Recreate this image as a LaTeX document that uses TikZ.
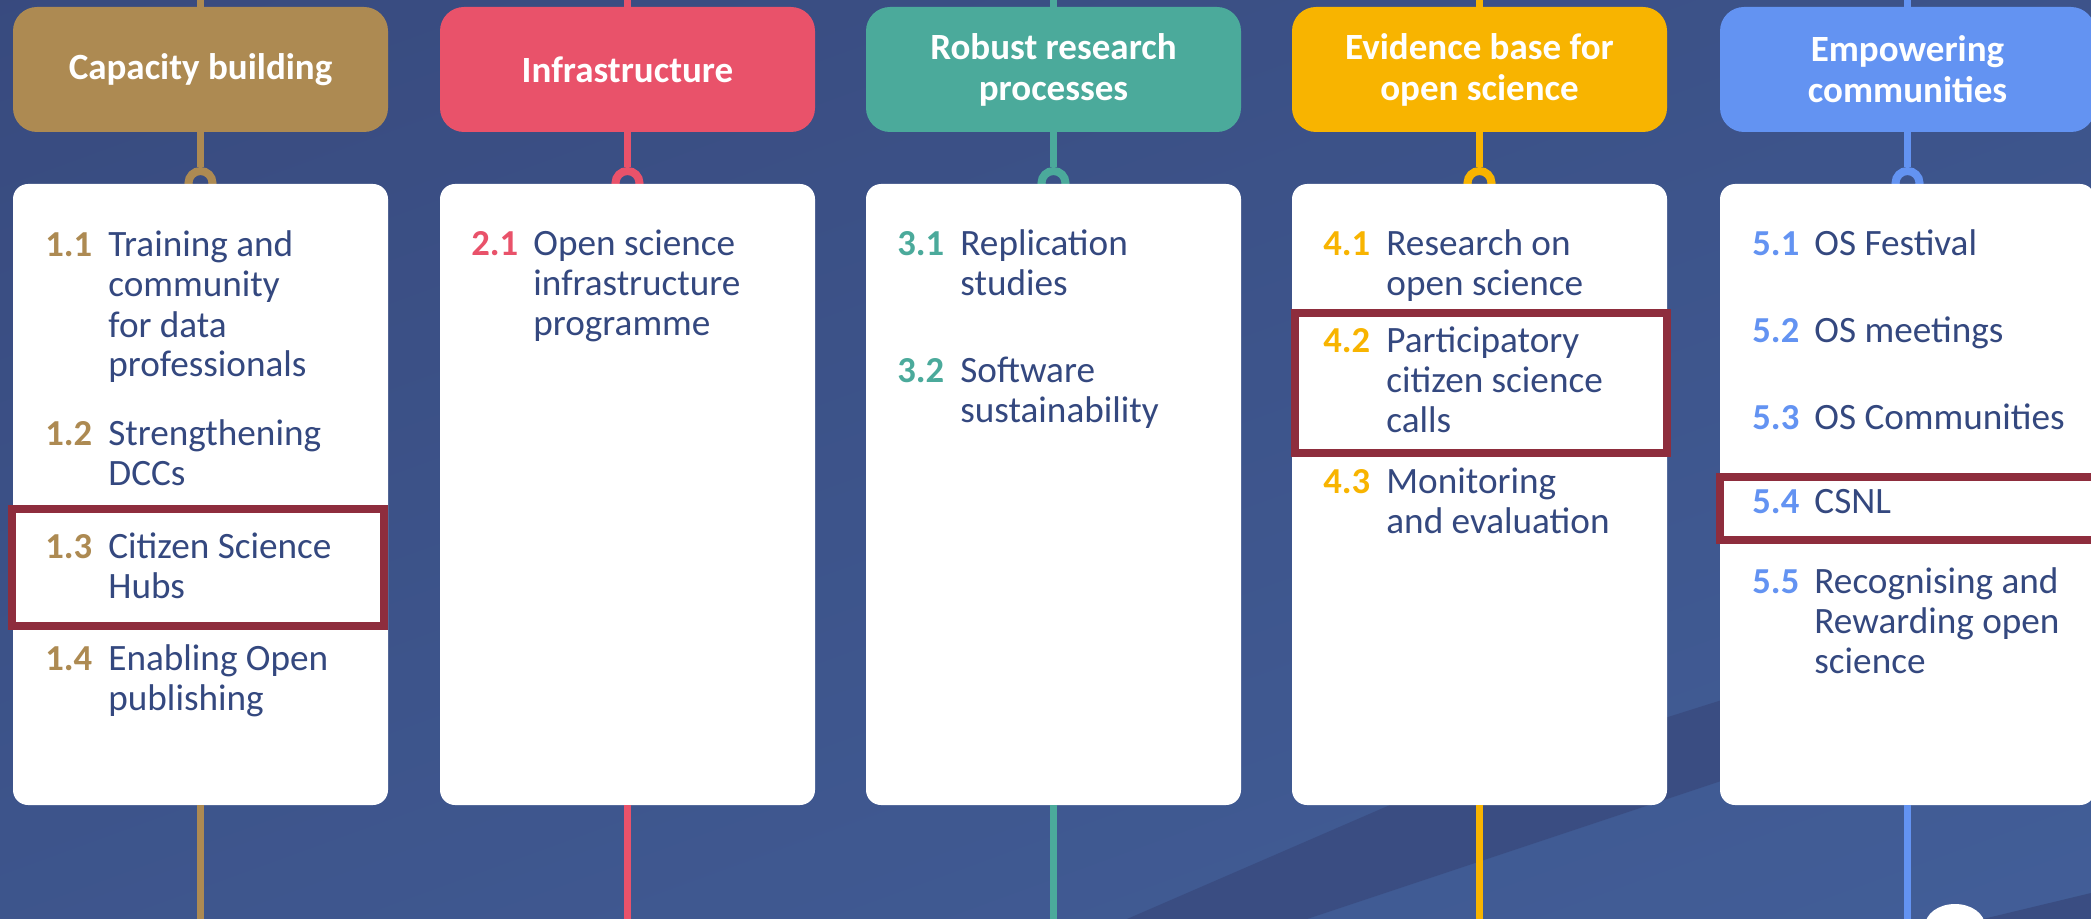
\documentclass[tikz,border=0pt]{standalone}
\usepackage{fontspec}
\setmainfont{Carlito}
\definecolor{bgtop}{HTML}{384A7E}
\definecolor{bgbot}{HTML}{425E98}
\definecolor{band}{HTML}{3A4D82}
\definecolor{cA}{HTML}{AD8A52}
\definecolor{cB}{HTML}{E9526A}
\definecolor{cC}{HTML}{4BAA9B}
\definecolor{cD}{HTML}{F8B400}
\definecolor{cE}{HTML}{6393F2}
\definecolor{itemtxt}{HTML}{34487F}
\definecolor{hlcol}{HTML}{8E2D3D}
\tikzset{
  header/.style={rectangle, rounded corners=12pt, minimum width=187.5pt, minimum height=62.5pt,
    inner sep=0pt, outer sep=0pt, text=white, align=center,
    font=\fontsize{18.5}{20.5}\selectfont\bfseries},
  card/.style={rectangle, rounded corners=7.5pt, fill=white, minimum width=187.5pt,
    minimum height=310.5pt, inner sep=0pt, outer sep=0pt},
  ringnode/.style={circle, line width=4pt, minimum size=12pt, inner sep=0pt, outer sep=0pt},
  stem/.style={line width=3.5pt},
  numtxt/.style={anchor=base west, inner sep=0pt, font=\fontsize{18.3}{20}\selectfont\bfseries},
  itmtxt/.style={anchor=base west, inner sep=0pt, text=itemtxt, font=\fontsize{18.6}{20}\selectfont},
  hlframe/.style={draw=hlcol, line width=4pt}
}
% name, colour, number x, text x, baseline y, number, text
\newcommand\itemrow[7]{%
  \node[numtxt, text=#2] (#1n) at (#3,#5) {#6};
  \node[itmtxt] (#1t) at (#4,#5) {\parbox[t]{175pt}{#7}};
}
\begin{document}
\begin{tikzpicture}[x=0.5pt, y=-0.5pt]
\useasboundingbox (0,0) rectangle (2091,919);
\clip (0,0) rectangle (2091,919);
% background
\shade[top color=bgtop, bottom color=bgbot, shading angle=20] (-200,-200) rectangle (2300,1100);
\fill[band] (1127,919) -- (1390,805) -- (1668,717) -- (1760,688) -- (1760,768) -- (1307,919) -- cycle;
\fill[band] (1983,919) -- (2091,893) -- (2091,919) -- cycle;
\fill[white] (1955,926) ellipse [x radius=30, y radius=22];

% column geometry: centres 200.5, 627.5, 1053.5, 1479.5, 1907.5
\foreach \n/\x in {1/200.5, 2/627.5, 3/1053.5, 4/1479.5, 5/1907.5}{
  \coordinate (t\n) at (\x,0);
  \coordinate (e\n) at (\x,919);
  \coordinate (rc\n) at (\x,183);
}
\node[header, fill=cA] (h1) at (200.5,69.5) {Capacity building};
\node[header, fill=cB] (h2) at (627.5,69.5) {Infrastructure};
\node[header, fill=cC] (h3) at (1053.5,69.5) {Robust research\\processes};
\node[header, fill=cD] (h4) at (1479.5,69.5) {Evidence base for\\open science};
\node[header, fill=cE] (h5) at (1907.5,69.5) {Empowering\\communities};

\foreach \n/\c in {1/cA, 2/cB, 3/cC, 4/cD, 5/cE}{
  \draw[stem, \c] (t\n) -- (h\n.north);
  \draw[stem, \c] (h\n.south) -- ([yshift=8pt]rc\n);
  \node[ringnode, draw=\c] (r\n) at (rc\n) {};
}
\node[card] (b1) at (200.5,494.5) {};
\node[card] (b2) at (627.5,494.5) {};
\node[card] (b3) at (1053.5,494.5) {};
\node[card] (b4) at (1479.5,494.5) {};
\node[card] (b5) at (1907.5,494.5) {};
\foreach \n/\c in {1/cA, 2/cB, 3/cC, 4/cD, 5/cE}{
  \draw[stem, \c] (b\n.south) -- (e\n);
}

% highlight frames
\draw[hlframe] (12,509) rectangle (384,626);
\draw[hlframe] (1295,313) rectangle (1667,453);
\draw[hlframe] (1720,477) rectangle (2110,540);

% column 1
\itemrow{a1}{cA}{45}{108}{257}{1.1}{Training and\\community\\for data\\professionals}
\itemrow{a2}{cA}{45}{108}{445}{1.2}{Strengthening\\DCCs}
\itemrow{a3}{cA}{45}{108}{558}{1.3}{Citizen Science\\Hubs}
\itemrow{a4}{cA}{45}{108}{670}{1.4}{Enabling Open\\publishing}
% column 2
\itemrow{b1}{cB}{471}{533}{256}{2.1}{Open science\\infrastructure\\programme}
% column 3
\itemrow{c1}{cC}{897}{960}{256}{3.1}{Replication\\studies}
\itemrow{c2}{cC}{897}{960}{382}{3.2}{Software\\sustainability}
% column 4
\itemrow{d1}{cD}{1323}{1386}{256}{4.1}{Research on\\open science}
\itemrow{d2}{cD}{1323}{1386}{352}{4.2}{Participatory\\citizen science\\calls}
\itemrow{d3}{cD}{1323}{1386}{493}{4.3}{Monitoring\\and evaluation}
% column 5
\itemrow{e1}{cE}{1752}{1814}{256}{5.1}{OS Festival}
\itemrow{e2}{cE}{1752}{1814}{343}{5.2}{OS meetings}
\itemrow{e3}{cE}{1752}{1814}{429}{5.3}{OS Communities}
\itemrow{e4}{cE}{1752}{1814}{513}{5.4}{CSNL}
\itemrow{e5}{cE}{1752}{1814}{593}{5.5}{Recognising and\\Rewarding open\\science}
\end{tikzpicture}
\end{document}
